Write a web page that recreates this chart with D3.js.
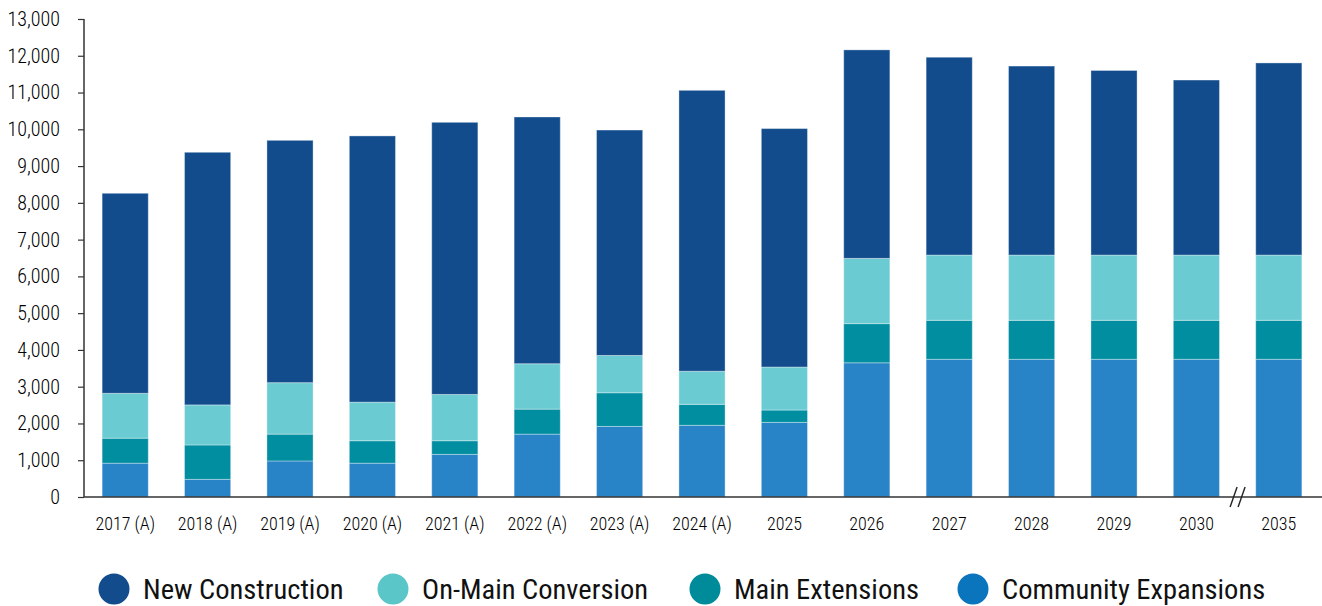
<!DOCTYPE html>
<html>
<head>
<meta charset="utf-8">
<script src="https://cdn.jsdelivr.net/npm/d3@7"></script>
<style>
  html, body { margin: 0; padding: 0; background: #fff; }
  svg { display: block; }
  .tick text, .lbl { font-family: "Liberation Sans Narrow", "Roboto Condensed", "DejaVu Sans Condensed", sans-serif; }
</style>
</head>
<body>
<svg id="chart" width="1322" height="606"></svg>
<script>
// Annual volumes by connection type (stack order: bottom to top)
const categories = ["2017 (A)", "2018 (A)", "2019 (A)", "2020 (A)", "2021 (A)", "2022 (A)", "2023 (A)", "2024 (A)", "2025", "2026", "2027", "2028", "2029", "2030", "2035"];
const communityExpansions = [920, 480, 980, 920, 1160, 1710, 1920, 1950, 2030, 3650, 3745, 3745, 3745, 3745, 3745];
const mainExtensions      = [680, 935, 730, 610, 370, 680, 915, 570, 335, 1065, 1060, 1060, 1060, 1060, 1060];
const onMainConversion    = [1220, 1090, 1400, 1050, 1260, 1235, 1015, 900, 1170, 1775, 1775, 1775, 1775, 1775, 1775];
const newConstruction     = [5440, 6870, 6590, 7240, 7400, 6710, 6130, 7640, 6485, 5670, 5380, 5140, 5020, 4760, 5225];
const yTicks = [0, 1000, 2000, 3000, 4000, 5000, 6000, 7000, 8000, 9000, 10000, 11000, 12000, 13000];

const seriesNames  = ["Community Expansions", "Main Extensions", "On-Main Conversion", "New Construction"];
const seriesValues = [communityExpansions, mainExtensions, onMainConversion, newConstruction];
const barColors    = ["#2883c7", "#018ea0", "#6bcbd3", "#124c8c"];
const legendOrder  = ["New Construction", "On-Main Conversion", "Main Extensions", "Community Expansions"];
const legendColors = ["#124c8c", "#5bc6c8", "#008b9a", "#0a74bd"];

const rows = categories.map((c, i) => {
  const r = { category: c };
  seriesNames.forEach((s, k) => r[s] = seriesValues[k][i]);
  return r;
});

const svg = d3.select("#chart");
const x0 = 84, x1 = 1320, yBottom = 497, yTop = 19;

const x = d3.scaleBand().domain(categories).range([x0, x1]).paddingInner(0.44).paddingOuter(0.22);
const y = d3.scaleLinear().domain([0, 13000]).range([yBottom, yTop]);

const stacked = d3.stack().keys(seriesNames)(rows);

svg.append("g")
  .selectAll("g")
  .data(stacked)
  .join("g")
  .attr("fill", (d, i) => barColors[i])
  .selectAll("rect")
  .data(d => d)
  .join("rect")
  .attr("x", d => x(d.data.category))
  .attr("width", x.bandwidth())
  .attr("y", d => y(d[1]))
  .attr("height", d => y(d[0]) - y(d[1]))
  .attr("stroke", "rgba(255,255,255,0.35)")
  .attr("stroke-width", 1);

// Y axis
const yAxis = svg.append("g")
  .attr("transform", `translate(${x0},0)`)
  .call(d3.axisLeft(y).tickValues(yTicks).tickFormat(d3.format(",")).tickSize(6).tickPadding(18));
yAxis.select(".domain").attr("stroke", "#333").attr("stroke-width", 1.5).attr("d", `M0,${yTop}V${yBottom}`);
yAxis.selectAll(".tick line").attr("stroke", "#333").attr("stroke-width", 1.2);
yAxis.selectAll(".tick text").attr("font-size", 20).attr("font-weight", 300).attr("fill", "#000");

// X axis
const xAxis = svg.append("g")
  .attr("transform", `translate(0,${yBottom})`)
  .call(d3.axisBottom(x).tickSize(0).tickPadding(20));
xAxis.select(".domain").attr("stroke", "#333").attr("stroke-width", 1.5).attr("d", `M${x0},0H1322`);
xAxis.selectAll(".tick text").attr("font-size", 18).attr("font-weight", 300).attr("fill", "#000");

// Axis break between the last two categories
const bx = (x(categories[13]) + x.bandwidth() + x(categories[14])) / 2;
const brk = svg.append("g").attr("stroke", "#222").attr("stroke-width", 1.4);
[-4, 4].forEach(dx => {
  brk.append("line")
    .attr("x1", bx + dx - 3.5).attr("y1", yBottom + 10)
    .attr("x2", bx + dx + 3.5).attr("y2", yBottom - 10);
});

// Legend
const legendX = [114, 393, 705, 973];
const legend = svg.append("g").attr("transform", "translate(0,589)");
legendOrder.forEach((name, i) => {
  legend.append("circle").attr("cx", legendX[i]).attr("cy", 0).attr("r", 15.5).attr("fill", legendColors[i]);
  legend.append("text").attr("class", "lbl")
    .attr("x", legendX[i] + 29).attr("y", 0).attr("dy", "0.35em")
    .attr("font-size", 28.5).attr("font-weight", 400).attr("fill", "#111")
    .text(name);
});
</script>
</body>
</html>
